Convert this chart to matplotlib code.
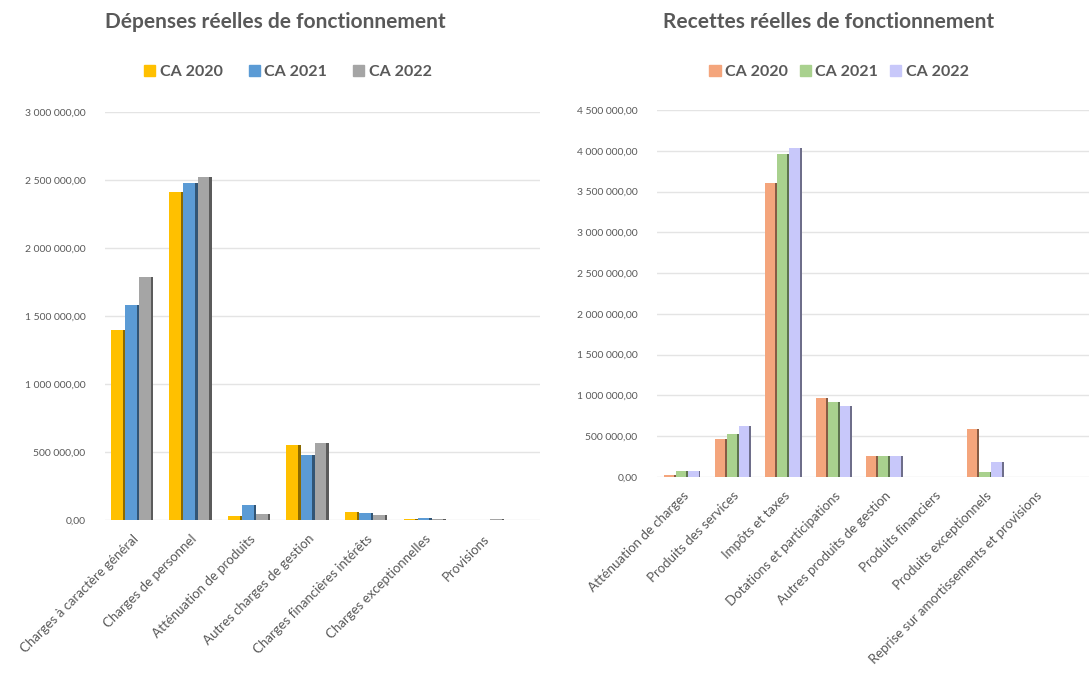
import matplotlib
matplotlib.use("Agg")
import matplotlib.pyplot as plt
import numpy as np
from matplotlib.ticker import FuncFormatter
from matplotlib.patches import Patch
from matplotlib.colors import to_rgb

plt.rcParams['font.family'] = ['Lato', 'DejaVu Sans']

series = ["CA 2020", "CA 2021", "CA 2022"]

dep_categories = ["Charges à caractère général", "Charges de personnel",
                  "Atténuation de produits", "Autres charges de gestion",
                  "Charges financières intérêts", "Charges exceptionnelles",
                  "Provisions"]
dep_2020 = [1400000, 2410000, 30000, 550000, 60000, 10000, 0]
dep_2021 = [1580000, 2480000, 110000, 480000, 50000, 15000, 0]
dep_2022 = [1790000, 2520000, 45000, 565000, 40000, 8000, 6000]

rec_categories = ["Atténuation de charges", "Produits des services",
                  "Impôts et taxes", "Dotations et participations",
                  "Autres produits de gestion", "Produits financiers",
                  "Produits exceptionnels",
                  "Reprise sur amortissements et provisions"]
rec_2020 = [30000, 470000, 3600000, 970000, 260000, 5000, 590000, 0]
rec_2021 = [70000, 530000, 3960000, 920000, 255000, 5000, 60000, 0]
rec_2022 = [70000, 620000, 4030000, 870000, 255000, 5000, 180000, 0]

dep_colors = ["#FFC000", "#5B9BD5", "#A5A5A5"]
rec_colors = ["#F4A57C", "#A9D18E", "#C8C8FA"]

def fr_fmt(v, pos):
    s = f"{v:,.2f}"
    s = s.replace(",", " ").replace(".", ",")
    return s

def darker(c, f=0.55):
    r, g, b = to_rgb(c)
    return (r * f, g * f, b * f)

fig = plt.figure(figsize=(10.89, 6.77), dpi=100)
W, H = 1089, 677

def draw(ax, cats, data, colors, ymax, step, xlim, title, tx, lx, colspace):
    x = np.arange(len(cats))
    w = 0.24
    for i, (vals, c) in enumerate(zip(data, colors)):
        pos = x + (i - 1) * w
        ax.bar(pos, vals, width=w, color=c, zorder=3)
        ax.bar(pos + w / 2 - w * 0.16, vals, width=w * 0.16, align='edge',
               color=darker(c), zorder=4)
    ax.set_xlim(*xlim)
    ax.set_ylim(0, ymax)
    ax.set_yticks(np.arange(0, ymax + 1, step))
    ax.yaxis.set_major_formatter(FuncFormatter(fr_fmt))
    ax.grid(axis='y', color='#E4E4E4', linewidth=1.0, zorder=0)
    for s in ax.spines.values():
        s.set_visible(False)
    ax.tick_params(axis='both', length=0, colors='#595959', labelsize=7.5)
    ax.tick_params(axis='y', pad=14)
    ax.tick_params(axis='x', pad=9)
    ax.set_xticks(x)
    ax.set_xticklabels(cats, rotation=45, ha='right', rotation_mode='anchor',
                       fontsize=9.5, color='#595959')
    fig.text(tx, 1 - 22 / H, title, ha='center', va='center', fontsize=15,
             fontweight='bold', color='#595959')
    handles = [Patch(color=c, label=s) for c, s in zip(colors, series)]
    fig.legend(handles=handles, loc='center', bbox_to_anchor=(lx, 1 - 72 / H),
               ncol=3, frameon=False, handlelength=0.7,
               handleheight=0.7, handletextpad=0.3, columnspacing=colspace,
               labelcolor='#595959', prop={'weight': 'bold', 'size': 11.5})

ax1 = fig.add_axes([105 / W, 1 - 520 / H, 435 / W, (520 - 112) / H])
draw(ax1, dep_categories, [dep_2020, dep_2021, dep_2022], dep_colors,
     3000000, 500000, (-0.46, 6.97),
     "Dépenses réelles de fonctionnement", 275 / W, 288 / W, 1.6)

ax2 = fig.add_axes([657 / W, 1 - 477 / H, 432 / W, (477 - 110) / H])
draw(ax2, rec_categories, [rec_2020, rec_2021, rec_2022], rec_colors,
     4500000, 500000, (-0.5, 8.05),
     "Recettes réelles de fonctionnement", 829 / W, 839 / W, 0.7)

fig.savefig("out.png", dpi=100)
